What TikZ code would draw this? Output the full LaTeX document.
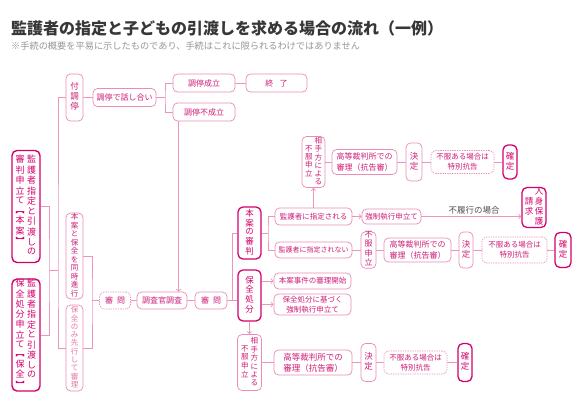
\documentclass[tikz,border=0pt]{standalone}
\usepackage{fontspec}
\setmainfont{Noto Sans CJK JP}
\usetikzlibrary{arrows.meta}
\definecolor{linec}{RGB}{236,150,190}
\definecolor{boxc}{RGB}{234,140,182}
\definecolor{darkc}{RGB}{212,0,108}
\definecolor{txtc}{RGB}{206,30,120}
\definecolor{lighttxt}{RGB}{228,120,168}
\definecolor{titc}{RGB}{55,55,55}
\definecolor{subc}{RGB}{150,150,150}
\definecolor{labc}{RGB}{80,80,80}
\newcommand\vcol[2][c]{\begin{tabular}[#1]{@{}c@{}}#2\end{tabular}}
\tikzset{
  base/.style={draw=boxc, line width=0.7pt, rounded corners=4.5pt, fill=white, text=txtc,
    inner sep=0pt, align=center, font=\fontsize{8}{10.5}\selectfont},
  bx/.style={base},
  thk/.style={base, draw=darkc, line width=1.3pt, rounded corners=5pt, text=darkc},
  dsh/.style={base, dash pattern=on 1.3pt off 1.1pt},
  sz/.style 2 args={minimum width=#1pt, minimum height=#2pt},
  ln/.style={draw=linec, line width=0.7pt},
  arr/.style={ln, -{Straight Barb[length=2.2pt,width=4.6pt]}},
  lab/.style={inner sep=0pt, text=labc, font=\fontsize{8.5}{10}\selectfont}
}
\begin{document}
\begin{tikzpicture}[x=1pt, y=-1pt]
\fill[white] (0,0) rectangle (580,408);
\useasboundingbox (0,0) rectangle (580,408);

% title
\node[anchor=west, inner sep=0pt, text=titc, font=\fontsize{16}{16}\selectfont\bfseries] (title) at (11,28) {監護者の指定と子どもの引渡しを求める場合の流れ（一例）};
\node[anchor=west, inner sep=0pt, text=subc, font=\fontsize{9.2}{10}\selectfont] (sub) at (11,46) {※手続の概要を平易に示したものであり、手続はこれに限られるわけではありません};

% left boxes
\node[thk, line width=1.4pt, sz={28}{112}, font=\fontsize{9}{9.6}\selectfont] (honan) at (26,206.5)
  {\vcol[t]{審\\判\\申\\立\\て\\︻\\本\\案\\︼}\hspace{2.5pt}\vcol[t]{監\\護\\者\\指\\定\\と\\引\\渡\\し\\の}};
\node[thk, line width=1.4pt, sz={28}{112}, font=\fontsize{9}{9.3}\selectfont] (hozen) at (26,335)
  {\vcol[t]{保\\全\\処\\分\\申\\立\\て\\︻\\保\\全\\︼}\hspace{2.5pt}\vcol[t]{監\\護\\者\\指\\定\\と\\引\\渡\\し\\の}};

% second column
\node[bx, sz={17}{47}, font=\fontsize{8.5}{10}\selectfont] (futyotei) at (74.5,97.5) {\vcol{付\\調\\停}};
\node[bx, sz={17}{86}, font=\fontsize{7.5}{7.9}\selectfont] (douji) at (74.5,256) {\vcol{本\\案\\と\\保\\全\\を\\同\\時\\進\\行}};
\node[bx, sz={17}{86}, text=lighttxt, font=\fontsize{7.5}{7.9}\selectfont] (sakou) at (74.5,348) {\vcol{保\\全\\の\\み\\先\\行\\し\\て\\審\\理}};

% top row
\node[bx, sz={63}{18}] (hanashiai) at (124.5,97.5) {調停で話し合い};
\node[bx, sz={62}{18}] (seiritsu) at (204,83) {調停成立};
\node[bx, sz={62}{18}] (fuseiritsu) at (204,112) {調停不成立};
\node[bx, sz={61}{18}] (shuryo) at (276.5,83) {終\hspace{0.8em}了};

% middle row
\node[dsh, sz={31}{17}] (shinmon1) at (115,300.5) {審\hspace{0.5em}問};
\node[bx, sz={50}{17}] (chosa) at (162,300.5) {調査官調査};
\node[bx, sz={32}{17}] (shinmon2) at (211,300.5) {審\hspace{0.5em}問};

\node[thk, sz={23}{52}, font=\fontsize{8.5}{8.6}\selectfont] (honshinpan) at (249.5,233) {\vcol{本\\案\\の\\審\\判}};
\node[thk, sz={23}{51}, font=\fontsize{8.5}{9}\selectfont] (hozenshobun) at (249.5,295.5) {\vcol{保\\全\\処\\分}};

% upper branch
\node[bx, sz={77}{17}, font=\fontsize{7.5}{9}\selectfont] (shitei) at (313.5,216.5) {監護者に指定される};
\node[bx, sz={77}{16}, font=\fontsize{7}{9}\selectfont] (shiteinai) at (313.5,250) {監護者に指定されない};

\node[bx, sz={23}{51}, font=\fontsize{7.5}{7.6}\selectfont] (fufuku1) at (313.5,162)
  {\vcol{不\\服\\申\\立}\hspace{2pt}\vcol{相\\手\\方\\に\\よ\\る}};
\node[bx, sz={65}{25}, font=\fontsize{8}{11}\selectfont] (koto1) at (364.5,162) {高等裁判所での\\審理（抗告審）};
\node[bx, sz={16}{38}, font=\fontsize{8.5}{10}\selectfont] (kettei1) at (414,162) {\vcol{決\\定}};
\node[dsh, sz={63}{23}, font=\fontsize{7.5}{10}\selectfont] (toku1) at (462.5,162) {不服ある場合は\\特別抗告};
\node[thk, sz={14}{34}, font=\fontsize{8.5}{10}\selectfont] (kakutei1) at (510,162) {\vcol{確\\定}};

\node[bx, sz={59}{15}, font=\fontsize{7.5}{9}\selectfont] (kyosei) at (391.5,216.5) {強制執行申立て};
\node[thk, sz={24}{40}, font=\fontsize{8.5}{9.5}\selectfont] (jinshin) at (534,207.5)
  {\vcol{請\\求}\hspace{1.5pt}\vcol{人\\身\\保\\護}};
\node[lab] (lbl) at (474,210) {不履行の場合};

% lower middle branch
\node[bx, sz={15}{36}, font=\fontsize{8}{8.7}\selectfont] (fufuku2) at (368.5,250) {\vcol{不\\服\\申\\立}};
\node[bx, sz={67}{24}, font=\fontsize{8}{10.5}\selectfont] (koto2) at (417.5,250) {高等裁判所での\\審理（抗告審）};
\node[bx, sz={14}{36}, font=\fontsize{8.5}{10}\selectfont] (kettei2) at (466,250) {\vcol{決\\定}};
\node[dsh, sz={65}{26}, font=\fontsize{7.5}{10}\selectfont] (toku2) at (514.5,250) {不服ある場合は\\特別抗告};
\node[thk, sz={16}{35}, font=\fontsize{8.5}{10}\selectfont] (kakutei2) at (563,250) {\vcol{確\\定}};

% hozen branch
\node[bx, sz={77}{16}, font=\fontsize{7.5}{9}\selectfont] (kaishi) at (312.5,281) {本案事件の審理開始};
\node[bx, sz={77}{21}, font=\fontsize{7.5}{9.5}\selectfont] (kyosei2) at (312.5,304.5) {保全処分に基づく\\強制執行申立て};

\node[bx, sz={24}{56}, font=\fontsize{7.5}{8.2}\selectfont] (fufuku3) at (249.5,362.5)
  {\vcol{不\\服\\申\\立}\hspace{2pt}\vcol{相\\手\\方\\に\\よ\\る}};
\node[bx, sz={78}{25}, font=\fontsize{8.5}{11}\selectfont] (koto3) at (313,362.5) {高等裁判所での\\審理（抗告審）};
\node[bx, sz={15}{38}, font=\fontsize{8.5}{10}\selectfont] (kettei3) at (368.5,362.5) {\vcol{決\\定}};
\node[dsh, sz={63}{23}, font=\fontsize{7.5}{10}\selectfont] (toku3) at (415.5,362.5) {不服ある場合は\\特別抗告};
\node[thk, sz={14}{38}, font=\fontsize{8.5}{10}\selectfont] (kakutei3) at (465,362.5) {\vcol{確\\定}};

% connectors
\coordinate (j1) at (49,270);
\coordinate (j2) at (58,270);
\draw[ln] (honan.east) -| (j1) |- (hozen.east);
\draw[ln] (j1) -- (j2);
\draw[ln] (futyotei.west) -| (j2) |- (sakou.west);
\coordinate (j3) at (92,300.5);
\draw[ln] (douji.east) -| (j3) |- (sakou.east);
\draw[ln] (j3) -- (shinmon1.west);

\draw[ln] (futyotei.east) -- (hanashiai.west);
\coordinate (j5) at (165,97.5);
\draw[ln] (hanashiai.east) -- (j5);
\draw[ln] (seiritsu.west) -| (j5) |- (fuseiritsu.west);
\draw[ln] (seiritsu.east) -- (shuryo.west);
\draw[arr] ([xshift=6pt]fuseiritsu.south west) -- ([xshift=6pt]fuseiritsu.south west |- chosa.north);

\draw[ln] (shinmon1.east) -- (chosa.west);
\draw[ln] (chosa.east) -- (shinmon2.west);
\coordinate (j4) at (232,300.5);
\draw[ln] (shinmon2.east) -- (shinmon2.east -| hozenshobun.west);
\draw[ln] (j4) |- (honshinpan.west);

\coordinate (j6) at (268,233);
\draw[ln] (honshinpan.east) -- (j6);
\draw[ln] (shitei.west) -| (j6) |- (shiteinai.west);

\draw[arr] (shitei.north) -- (fufuku1.south);
\draw[ln] (fufuku1.east) -- (koto1.west);
\draw[ln] (koto1.east) -- (kettei1.west);
\draw[ln] (kettei1.east) -- (toku1.west);
\draw[ln] (toku1.east) -- (kakutei1.west);

\draw[arr] (shitei.east) -- (kyosei.west);
\draw[arr] (kyosei.east) -- (kyosei.east -| jinshin.west);

\draw[ln] (shiteinai.east) -- (fufuku2.west);
\draw[ln] (fufuku2.east) -- (koto2.west);
\draw[ln] (koto2.east) -- (kettei2.west);
\draw[ln] (kettei2.east) -- (toku2.west);
\draw[ln] (toku2.east) -- (kakutei2.west);

\draw[arr] (hozenshobun.east |- kaishi.west) -- (kaishi.west);
\draw[arr] (hozenshobun.east |- kyosei2.west) -- (kyosei2.west);
\draw[arr] (hozenshobun.south) -- (fufuku3.north);
\draw[ln] (fufuku3.east) -- (koto3.west);
\draw[ln] (koto3.east) -- (kettei3.west);
\draw[ln] (kettei3.east) -- (toku3.west);
\draw[ln] (toku3.east) -- (kakutei3.west);
\end{tikzpicture}
\end{document}
